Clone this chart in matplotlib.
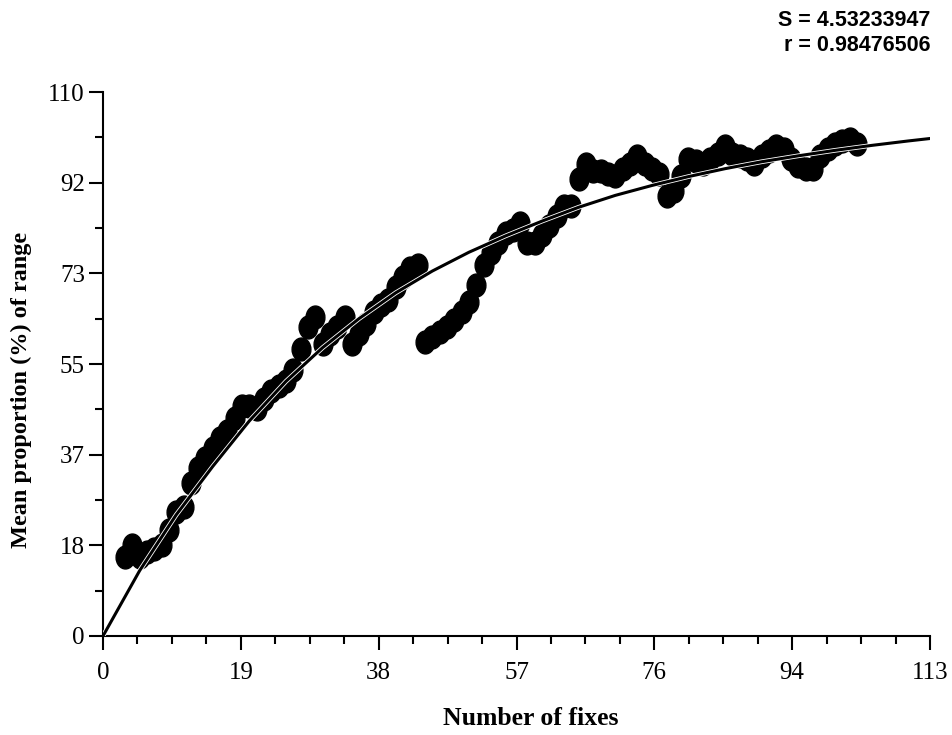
import os
import matplotlib
matplotlib.use('Agg')
import matplotlib.pyplot as plt
import matplotlib.patheffects as pe
from matplotlib import font_manager
from matplotlib.path import Path
from matplotlib.transforms import Affine2D
from matplotlib.ticker import AutoMinorLocator
import numpy as np

# number of fixes (x) and mean proportion of range (%)
fixes = list(range(3, 104))
proportion = [
    16, 18.5, 16, 17, 17.5, 18.5, 21.5, 25, 26, 31, 34, 36, 38, 40, 41.5, 44, 46.5,
    46.5, 46, 48, 49.5, 50.5, 51.5, 53.8, 58, 62.5, 64.5, 59, 61, 62.5, 64.5, 59, 61,
    63, 65.5, 67, 68, 70.5, 72.5, 74.5, 75,
    59.5, 60.5, 61.5, 62.5, 64, 65.5, 67.5, 71, 75, 77.5, 79.5, 81.5, 82, 83.5, 79.5,
    79.5, 81, 83, 85, 87, 87,
    92.5, 95.5, 94, 94, 93.5, 93, 94.5, 95.5, 97, 95.5, 94.5, 93.5, 89, 90, 93, 96.5,
    96, 95.5, 96.5, 97.5, 99, 97.5, 97, 96.5, 95.5, 97, 98, 99, 98.5, 96.5, 95, 94.5,
    94.5, 97, 98.5, 99.5, 100, 100.5, 99.5,
]

# fitted curve
curve_x = [0, 5, 10, 15, 20, 25, 30, 35, 40, 45, 50, 55, 60, 65, 70, 75, 80, 85,
           90, 95, 100, 105, 110, 113]
curve_y = [0, 13.2, 24.5, 34.3, 43.5, 51.5, 58.3, 64.2, 69.4, 73.8, 77.6, 80.9,
           83.9, 86.7, 89.1, 91.1, 92.9, 94.5, 95.9, 97.1, 98.2, 99.2, 100.1, 100.6]

xtick_labels = ['0', '19', '38', '57', '76', '94', '113']
ytick_labels = ['0', '18', '37', '55', '73', '92', '110']
stat_lines = ['S = 4.53233947', 'r = 0.98476506']

xmax, ymax = 113, 110

plt.rcParams['font.family'] = ['Liberation Serif', 'DejaVu Serif']

# pick the regular-width Liberation Sans Bold file (not the Narrow one)
stat_font = font_manager.FontProperties(family='Liberation Sans', weight='bold')
for f in font_manager.findSystemFonts():
    if os.path.basename(f) == 'LiberationSans-Bold.ttf':
        stat_font = font_manager.FontProperties(fname=f)
        break

fig = plt.figure(figsize=(9.52, 7.35), dpi=100)
ax = fig.add_axes([0.1082, 0.1347, 0.8687, 0.7401])

ellipse = Path.unit_circle().transformed(Affine2D().scale(0.82, 1.0))
ax.plot(fixes, proportion, linestyle='none', marker=ellipse, markersize=16.5,
        color='black', zorder=2, clip_on=False)
ax.plot(curve_x, curve_y, color='black', linewidth=2.2, zorder=3,
        path_effects=[pe.Stroke(linewidth=3.4, foreground='white'), pe.Normal()])

ax.set_xlim(0, xmax)
ax.set_ylim(0, ymax)

ax.set_xticks(np.linspace(0, xmax, len(xtick_labels)))
ax.set_xticklabels(xtick_labels)
ax.set_yticks(np.linspace(0, ymax, len(ytick_labels)))
ax.set_yticklabels(ytick_labels)
ax.xaxis.set_minor_locator(AutoMinorLocator(4))
ax.yaxis.set_minor_locator(AutoMinorLocator(2))

ax.tick_params(which='major', direction='out', length=10, width=1.5, labelsize=18)
ax.tick_params(which='minor', direction='out', length=6, width=1.5)
ax.tick_params(axis='x', pad=9)
ax.tick_params(axis='y', pad=3)
ax.spines['top'].set_visible(False)
ax.spines['right'].set_visible(False)
for s in ['left', 'bottom']:
    ax.spines[s].set_linewidth(1.5)

fig.text(0.558, 0.022, 'Number of fixes', ha='center', va='center',
         fontsize=18.5, fontweight='bold')
fig.text(0.023, 0.47, 'Mean proportion (%) of range', ha='center', va='center',
         rotation=90, fontsize=17.5, fontweight='bold')

stat_font.set_size(15.5)
fig.text(0.977, 0.972, stat_lines[0], ha='right', va='center',
         fontproperties=stat_font)
fig.text(0.977, 0.938, stat_lines[1], ha='right', va='center',
         fontproperties=stat_font)

fig.savefig('out.png', dpi=100)
